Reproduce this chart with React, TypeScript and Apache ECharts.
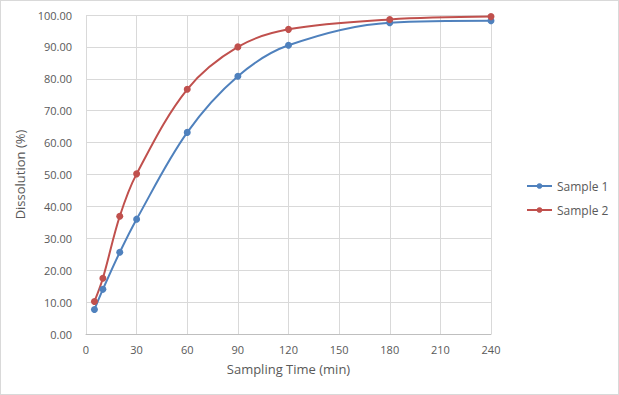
import React, { useEffect, useRef } from "react";
import * as echarts from "echarts";

const times = [5, 10, 20, 30, 60, 90, 120, 180, 240];
const sample1 = [7.7, 14.0, 25.6, 36.0, 63.2, 80.8, 90.5, 97.6, 98.2];
const sample2 = [10.2, 17.5, 36.9, 50.2, 76.7, 90.0, 95.5, 98.6, 99.5];
const seriesNames = ["Sample 1", "Sample 2"];
const xTitle = "Sampling Time (min)";
const yTitle = "Dissolution (%)";

const FONT = "'Open Sans', 'Noto Sans', sans-serif";

export default function App() {
  const ref = useRef<HTMLDivElement>(null);
  useEffect(() => {
    const chart = echarts.init(ref.current!, null, { renderer: "svg" });
    const pair = (ys: number[]) => times.map((t, i) => [t, ys[i]]);
    chart.setOption({
      animation: false,
      backgroundColor: "#ffffff",
      textStyle: { fontFamily: FONT },
      grid: { left: 85, right: 127, top: 14, bottom: 60 },
      legend: {
        orient: "vertical",
        left: 520,
        top: 174,
        itemWidth: 25,
        itemHeight: 7,
        itemGap: 12,
        textStyle: { color: "#595959", fontSize: 12, fontFamily: FONT },
        data: seriesNames,
      },
      xAxis: {
        type: "value",
        min: 0,
        max: 240,
        interval: 30,
        name: xTitle,
        nameLocation: "middle",
        nameGap: 28,
        nameTextStyle: { color: "#595959", fontSize: 13, fontFamily: FONT },
        axisLine: { show: true, lineStyle: { color: "#BFBFBF" } },
        axisTick: { show: false },
        axisLabel: { color: "#595959", fontSize: 11, margin: 10, fontFamily: FONT },
        splitLine: { show: true, lineStyle: { color: "#D9D9D9" } },
      },
      yAxis: {
        type: "value",
        min: 0,
        max: 100,
        interval: 10,
        name: yTitle,
        nameLocation: "middle",
        nameGap: 58,
        nameTextStyle: { color: "#595959", fontSize: 13, fontFamily: FONT },
        axisLine: { show: false },
        axisTick: { show: false },
        axisLabel: {
          color: "#595959",
          fontSize: 11,
          margin: 14,
          fontFamily: FONT,
          formatter: (v: number) => v.toFixed(2),
        },
        splitLine: { show: true, lineStyle: { color: "#D9D9D9" } },
      },
      series: [
        {
          name: seriesNames[0],
          type: "line",
          data: pair(sample1),
          smooth: 0.35,
          symbol: "circle",
          symbolSize: 7,
          color: "#4F81BD",
          lineStyle: { width: 2, color: "#4F81BD" },
          itemStyle: { color: "#4F81BD" },
        },
        {
          name: seriesNames[1],
          type: "line",
          data: pair(sample2),
          smooth: 0.35,
          symbol: "circle",
          symbolSize: 7,
          color: "#C0504D",
          lineStyle: { width: 2, color: "#C0504D" },
          itemStyle: { color: "#C0504D" },
        },
      ],
    });
    return () => chart.dispose();
  }, []);
  return (
    <div
      style={{
        position: "fixed",
        left: 0,
        top: 0,
        width: 619,
        height: 395,
        boxSizing: "border-box",
        border: "1px solid #D9D9D9",
        background: "#fff",
      }}
    >
      <div ref={ref} style={{ width: 617, height: 393 }} />
    </div>
  );
}
